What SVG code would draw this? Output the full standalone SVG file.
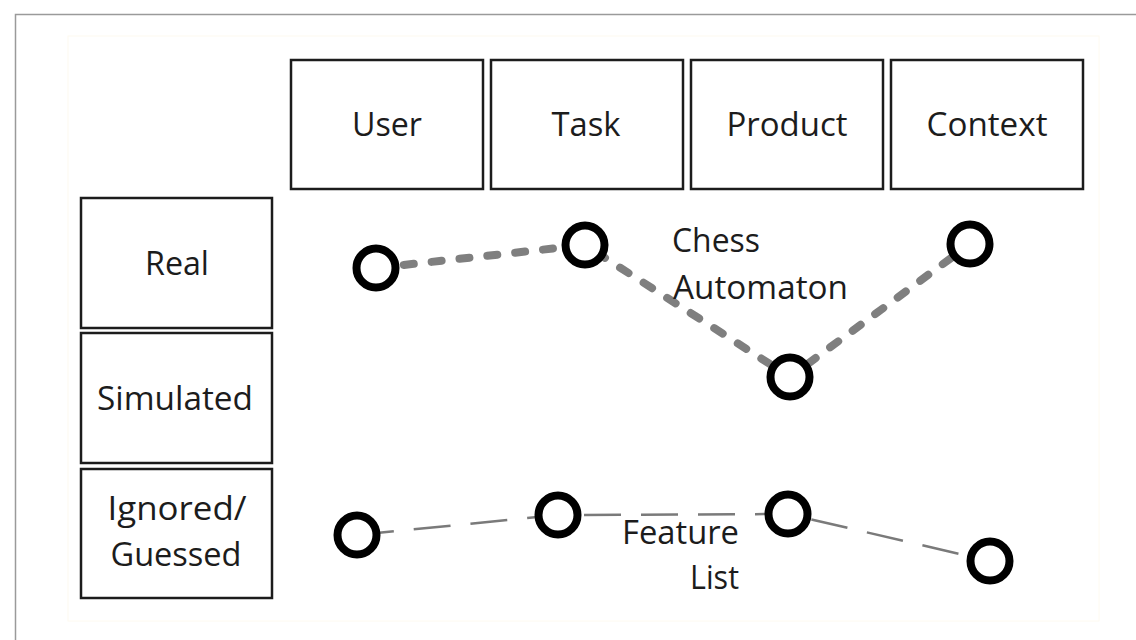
<svg xmlns="http://www.w3.org/2000/svg" width="1136" height="640" viewBox="0 0 1136 640">
  <style>
    .box { fill: #ffffff; stroke: #1c1c1c; stroke-width: 2.5; }
    .lbl { font-family: "Open Sans", "Liberation Sans", sans-serif; font-size: 32px; fill: #1c1c1c; }
    .mid { text-anchor: middle; }
    .pt { fill: #ffffff; stroke: #000000; stroke-width: 8; }
    .thick { fill: none; stroke: #7f7f7f; stroke-width: 8; stroke-linecap: round; stroke-linejoin: round; stroke-dasharray: 10 18; }
    .thin { fill: none; stroke: #7a7a7a; stroke-width: 2.5; stroke-dasharray: 37 20; }
  </style>

  <rect x="0" y="0" width="1136" height="640" fill="#ffffff"/>
  <!-- page frame -->
  <path d="M15.5,640 V14.5 H1136" fill="none" stroke="#9a9a9a" stroke-width="1.5"/>
  <rect x="68" y="36" width="1031" height="585" fill="none" stroke="#fefaf0" stroke-width="1"/>

  <!-- column headers -->
  <g id="col-user">
    <rect class="box" x="291" y="60" width="192" height="129"/>
    <text class="lbl mid" x="387" y="136" textLength="70" lengthAdjust="spacingAndGlyphs">User</text>
  </g>
  <g id="col-task">
    <rect class="box" x="491" y="60" width="192" height="129"/>
    <text class="lbl mid" x="586" y="136" textLength="69" lengthAdjust="spacingAndGlyphs">Task</text>
  </g>
  <g id="col-product">
    <rect class="box" x="691" y="60" width="192" height="129"/>
    <text class="lbl mid" x="787" y="136" textLength="121" lengthAdjust="spacingAndGlyphs">Product</text>
  </g>
  <g id="col-context">
    <rect class="box" x="891" y="60" width="192" height="129"/>
    <text class="lbl mid" x="987" y="136" textLength="121" lengthAdjust="spacingAndGlyphs">Context</text>
  </g>

  <!-- row headers -->
  <g id="row-real">
    <rect class="box" x="81" y="198" width="191" height="130"/>
    <text class="lbl mid" x="177" y="275" textLength="64" lengthAdjust="spacingAndGlyphs">Real</text>
  </g>
  <g id="row-simulated">
    <rect class="box" x="81" y="333" width="191" height="130"/>
    <text class="lbl mid" x="175" y="410" textLength="156" lengthAdjust="spacingAndGlyphs">Simulated</text>
  </g>
  <g id="row-ignored">
    <rect class="box" x="81" y="469" width="191" height="129"/>
    <text class="lbl mid" x="177" y="520" textLength="139" lengthAdjust="spacingAndGlyphs">Ignored/</text>
    <text class="lbl mid" x="176" y="566" textLength="131" lengthAdjust="spacingAndGlyphs">Guessed</text>
  </g>

  <!-- connectors -->
  <g id="connectors">
    <polyline class="thick" points="376,268 585,245 790,377 970,244"/>
    <polyline class="thin" points="357,535 558,515 788,514 990,561"/>
  </g>

  <!-- labels for the two profiles -->
  <g id="label-chess">
    <text class="lbl" x="672" y="252" textLength="88" lengthAdjust="spacingAndGlyphs">Chess</text>
    <text class="lbl" x="673" y="299" textLength="175" lengthAdjust="spacingAndGlyphs">Automaton</text>
  </g>
  <g id="label-feature">
    <text class="lbl" x="739" y="544" text-anchor="end" textLength="117" lengthAdjust="spacingAndGlyphs">Feature</text>
    <text class="lbl" x="739" y="589" text-anchor="end" textLength="49" lengthAdjust="spacingAndGlyphs">List</text>
  </g>

  <!-- profile points -->
  <g id="chess-user"><circle class="pt" cx="376" cy="268" r="19.5"/></g>
  <g id="chess-task"><circle class="pt" cx="585" cy="245" r="19.5"/></g>
  <g id="chess-product"><circle class="pt" cx="790" cy="377" r="19.5"/></g>
  <g id="chess-context"><circle class="pt" cx="970" cy="244" r="19.5"/></g>
  <g id="feature-user"><circle class="pt" cx="357" cy="535" r="19.5"/></g>
  <g id="feature-task"><circle class="pt" cx="558" cy="515" r="19.5"/></g>
  <g id="feature-product"><circle class="pt" cx="788" cy="514" r="19.5"/></g>
  <g id="feature-context"><circle class="pt" cx="990" cy="561" r="19.5"/></g>
</svg>
